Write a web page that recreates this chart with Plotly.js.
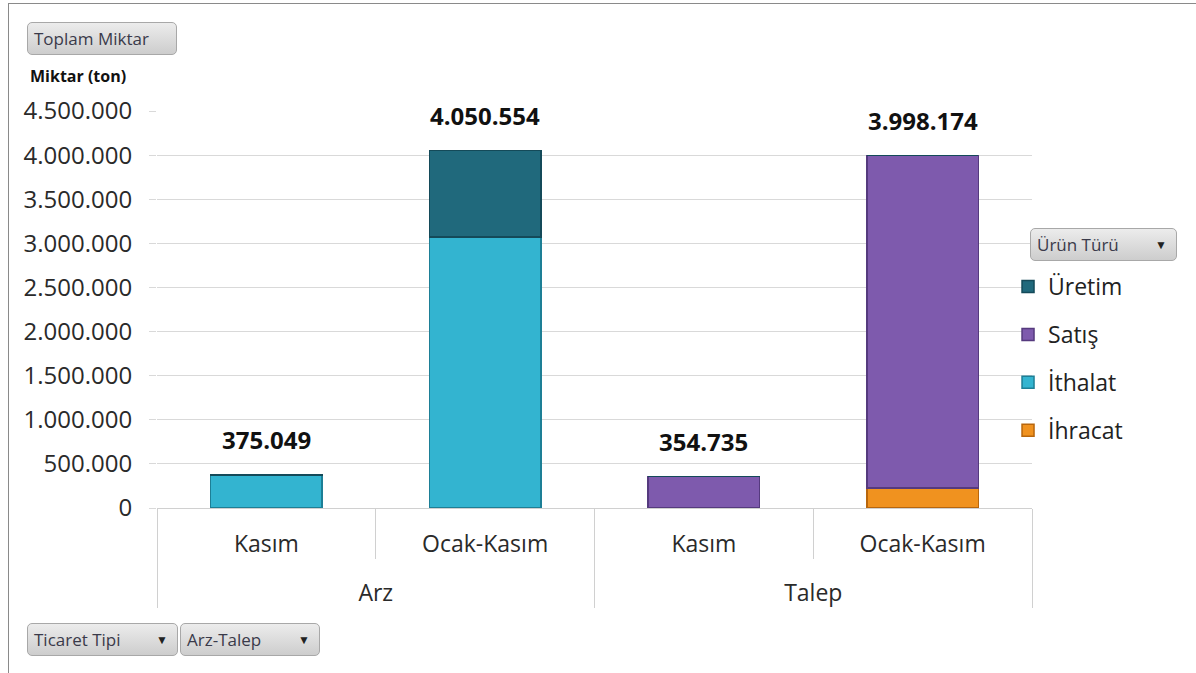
<!DOCTYPE html>
<html>
<head>
<meta charset="utf-8">
<script src="https://cdn.plot.ly/plotly-3.0.1.min.js"></script>
<style>
    body { margin: 0; background: #fff; font-family: "Open Sans", sans-serif; }
    #frame { position: absolute; left: 8px; top: 3px; width: 1200px; height: 690px; border: 1px solid #8a8a8a; }
    #chart { position: absolute; left: 0; top: 0; width: 1196px; height: 673px; }
    .btn {
        position: absolute; height: 33px; line-height: 31px; padding: 0 6px;
        font-size: 17px; color: #3a3a4a; box-sizing: border-box; white-space: nowrap;
        background: linear-gradient(#ececec, #cdcdcd);
        border: 1px solid #a8a8a8; border-radius: 5px;
    }
    .btn .arrow { font-size: 12px; position: absolute; right: 9px; color: #222; }
</style>
</head>
<body>
<div id="frame"></div>
<div id="chart"></div>
<div class="btn" style="left:27px;top:22px;width:150px;">Toplam Miktar</div>
<div class="btn" style="left:1030px;top:228px;width:147px;">Ürün Türü<span class="arrow">▼</span></div>
<div class="btn" style="left:27px;top:623px;width:151px;">Ticaret Tipi<span class="arrow">▼</span></div>
<div class="btn" style="left:180px;top:623px;width:140px;">Arz-Talep<span class="arrow">▼</span></div>
<script>
    const groups = ["Arz", "Arz", "Talep", "Talep"];
    const periods = ["Kasım", "Ocak-Kasım", "Kasım", "Ocak-Kasım"];
    const ihracat = [0, 0, 5000, 227000];
    const ithalat = [367000, 3070000, 0, 0];
    const satis = [0, 0, 349735, 3771174];
    const uretim = [8049, 980554, 0, 0];
    const totals = [375049, 4050554, 354735, 3998174];

    const font = "Open Sans, sans-serif";
    // extra line above the group names pushes them below the period labels
    const x = [groups.map(g => "<br>" + g), periods];

    const barTrace = (name, values, color, edge, rank) => ({
        type: "bar",
        name,
        x,
        y: values,
        legendrank: rank,
        legendgroup: name,
        marker: { color, line: { color: edge, width: 1.5 } },
        hoverinfo: "y+name"
    });

    const fmt = v => v.toString().replace(/\B(?=(\d{3})+(?!\d))/g, ".");

    const data = [
        barTrace("İhracat", ihracat, "#f0921f", "#b8660c", 4),
        barTrace("İthalat", ithalat, "#33b4d0", "#1d7f96", 3),
        barTrace("Satış", satis, "#7e5aad", "#553a7e", 2),
        barTrace("Üretim", uretim, "#20697c", "#144a59", 1)
    ];

    const totalLabels = totals.map((v, i) => ({
        x: i,
        y: v,
        xref: "x",
        yref: "y",
        text: "<b>" + fmt(v) + "</b>",
        showarrow: false,
        yanchor: "middle",
        yshift: 35,
        font: { family: font, size: 24, color: "#111" }
    }));

    const layout = {
        width: 1196,
        height: 673,
        paper_bgcolor: "rgba(0,0,0,0)",
        plot_bgcolor: "rgba(0,0,0,0)",
        separators: ",.",
        barmode: "stack",
        bargap: 0.49,
        margin: { l: 157, r: 164, t: 111, b: 165 },
        font: { family: font, size: 20, color: "#222" },
        xaxis: {
            type: "multicategory",
            showgrid: false,
            showline: true,
            linecolor: "#d0d0d0",
            ticks: "outside",
            tickcolor: "#d0d0d0",
            ticklen: 50,
            tickson: "boundaries",
            ticklabelstandoff: 15,
            showdividers: true,
            dividercolor: "#d0d0d0",
            dividerwidth: 1,
            tickfont: { family: font, size: 23, color: "#2a2a2a" }
        },
        yaxis: {
            range: [0, 4500000],
            dtick: 500000,
            tickformat: ",d",
            gridcolor: "#d9d9d9",
            showline: false,
            zeroline: false,
            ticks: "outside",
            ticklen: 7,
            tickcolor: "#d9d9d9",
            ticklabelstandoff: 12,
            tickfont: { family: font, size: 24, color: "#2a2a2a" }
        },
        legend: {
            x: 0.9726,
            xanchor: "left",
            y: 0.612,
            yanchor: "top",
            traceorder: "grouped",
            tracegroupgap: 15,
            font: { family: font, size: 23, color: "#222" },
            itemwidth: 30
        },
        annotations: [{
            text: "<b>Miktar (ton)</b>",
            xref: "paper", yref: "paper",
            x: -0.148, y: 1.087,
            xanchor: "left", yanchor: "middle",
            showarrow: false,
            font: { family: font, size: 16, color: "#111" }
        }].concat(totalLabels)
    };

    Plotly.newPlot("chart", data, layout, { displayModeBar: false, staticPlot: true });
</script>
</body>
</html>
